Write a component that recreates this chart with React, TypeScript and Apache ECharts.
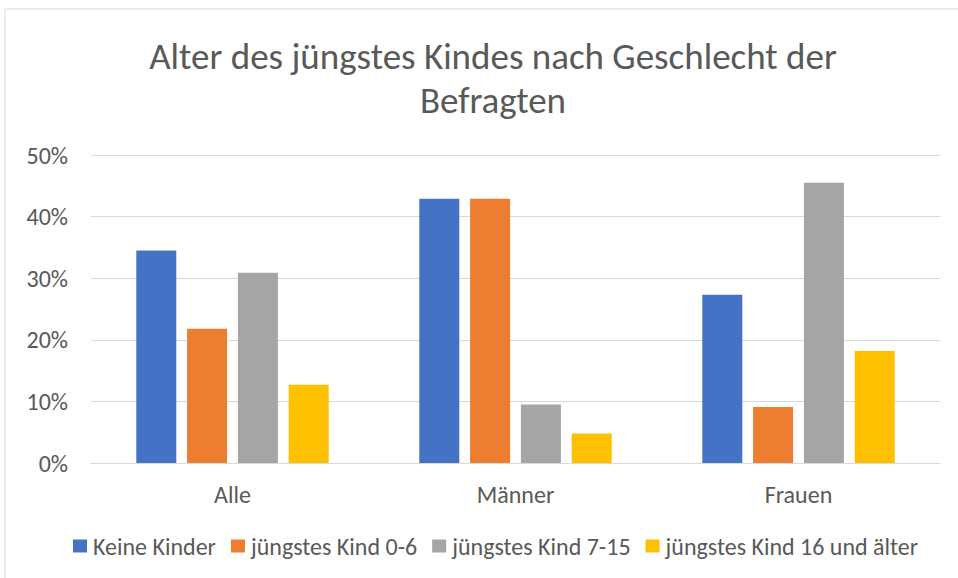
import React, { useEffect, useRef } from "react";
import * as echarts from "echarts";

const categories = ["Alle", "Männer", "Frauen"];
const seriesNames = ["Keine Kinder", "jüngstes Kind 0-6", "jüngstes Kind 7-15", "jüngstes Kind 16 und älter"];
const keineKinder = [34.5, 42.9, 27.3];
const kind0bis6 = [21.8, 42.9, 9.1];
const kind7bis15 = [30.9, 9.5, 45.5];
const kind16plus = [12.7, 4.8, 18.2];
const colors = ["#4472C4", "#ED7D31", "#A5A5A5", "#FFC000"];
const yTicks = [0, 10, 20, 30, 40, 50];

const FONT = "Carlito, Calibri, 'Liberation Sans Narrow', 'Open Sans', sans-serif";

export default function App() {
  const ref = useRef<HTMLDivElement>(null);
  useEffect(() => {
    if (!ref.current) return;
    const chart = echarts.init(ref.current, null, { renderer: "svg" });
    const values = [keineKinder, kind0bis6, kind7bis15, kind16plus];
    chart.setOption({
      animation: false,
      backgroundColor: "#ffffff",
      title: {
        text: "Alter des jüngstes Kindes nach Geschlecht der\nBefragten",
        left: 488,
        textAlign: "center",
        top: 29,
        textStyle: {
          fontFamily: FONT,
          fontSize: 37,
          fontWeight: "normal",
          color: "#595959",
          lineHeight: 44,
        },
      },
      graphic: [
        {
          type: "rect",
          shape: { x: 5, y: 9, width: 960, height: 580 },
          style: { fill: "none", stroke: "#d9d9d9", lineWidth: 1 },
          silent: true,
        },
      ],
      legend: {
        data: seriesNames,
        top: 534,
        left: 73,
        padding: 0,
        itemWidth: 14,
        itemHeight: 13,
        itemGap: 15,
        icon: "rect",
        textStyle: { fontFamily: FONT, fontSize: 24, color: "#595959", padding: [0, 0, 0, 1] },
      },
      grid: { left: 91, right: 18, top: 155, bottom: 115 },
      xAxis: {
        type: "category",
        data: categories,
        axisLine: { lineStyle: { color: "#d9d9d9", width: 1 } },
        axisTick: { show: false },
        axisLabel: { fontFamily: FONT, fontSize: 24, color: "#595959", margin: 19 },
      },
      yAxis: {
        type: "value",
        min: yTicks[0],
        max: yTicks[yTicks.length - 1],
        interval: 10,
        axisLine: { show: false },
        axisTick: { show: false },
        splitLine: { lineStyle: { color: "#d9d9d9", width: 1 } },
        axisLabel: {
          fontFamily: FONT,
          fontSize: 24,
          color: "#595959",
          margin: 23,
          formatter: (v: number) => `${v}%`,
        },
      },
      series: seriesNames.map((name, i) => ({
        name,
        type: "bar",
        data: values[i],
        barWidth: 40,
        barGap: "27%",
        itemStyle: { color: colors[i] },
      })),
    });
    return () => chart.dispose();
  }, []);
  return (
    <div
      ref={ref}
      style={{ position: "absolute", left: 0, top: 0, width: 958, height: 578 }}
    />
  );
}
